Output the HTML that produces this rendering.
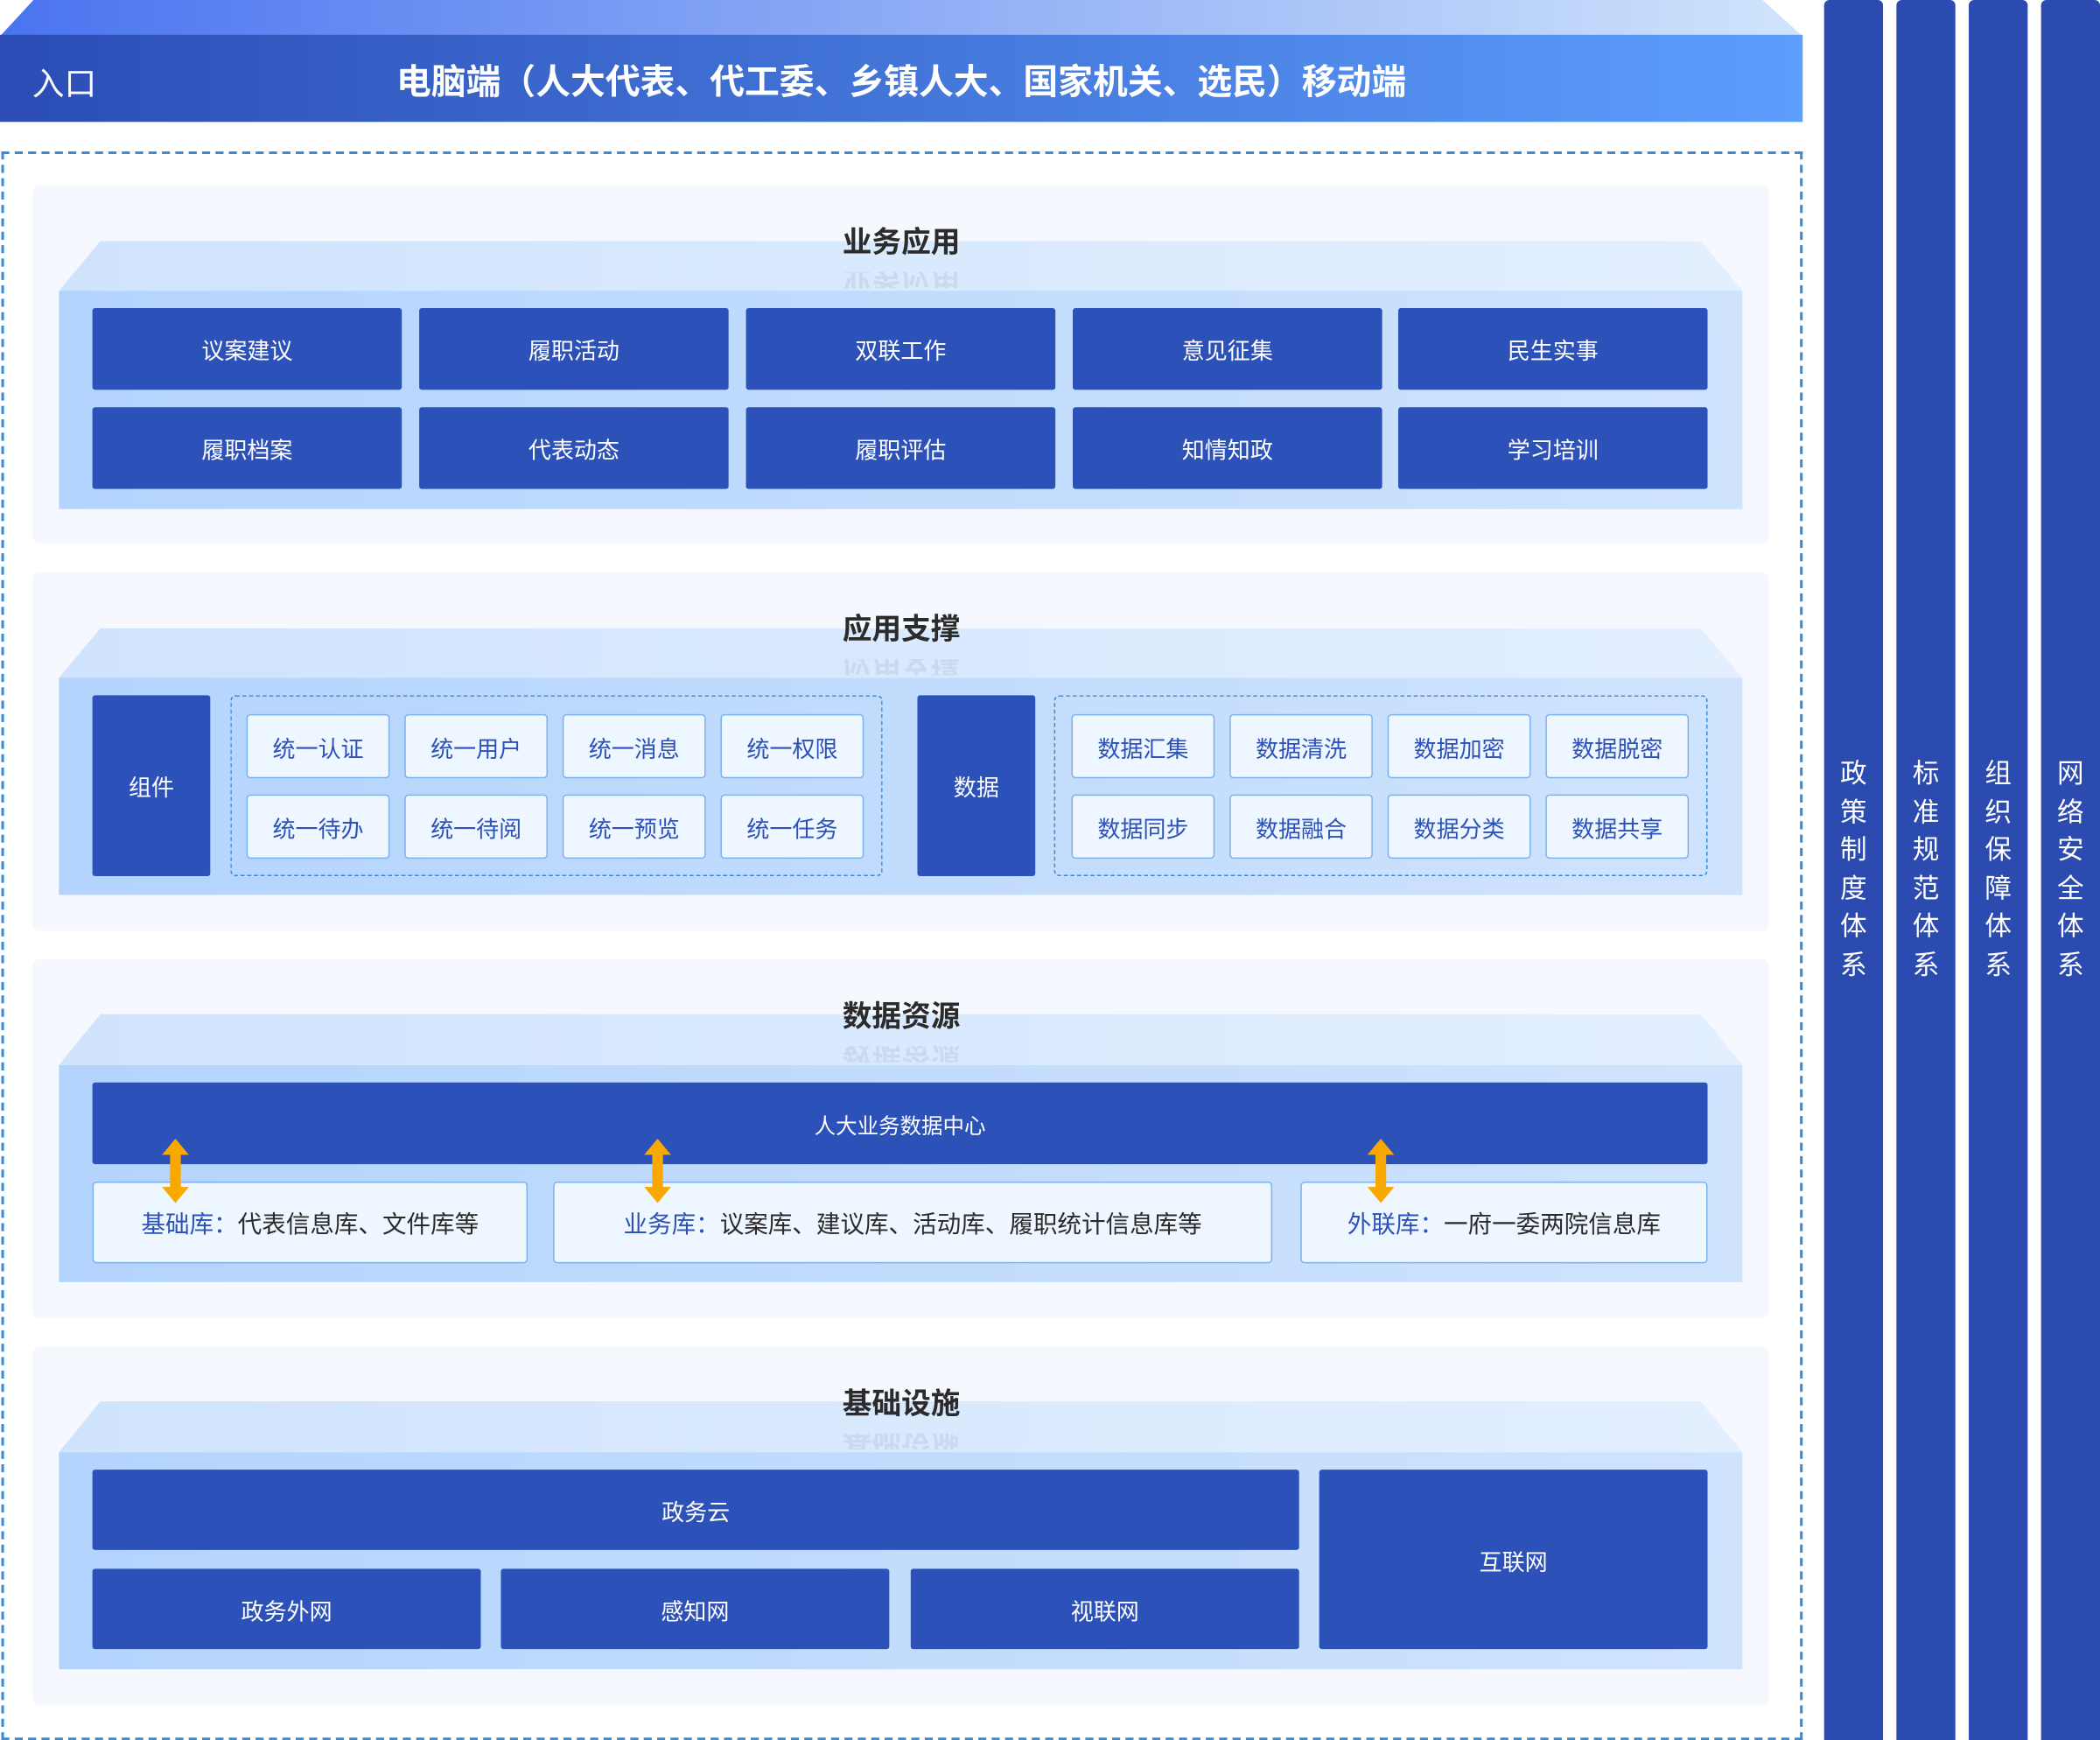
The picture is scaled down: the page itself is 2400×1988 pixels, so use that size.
<!DOCTYPE html>
<html><head><meta charset="utf-8"><style>
*{margin:0;padding:0;box-sizing:border-box}
html,body{width:2400px;height:1988px;overflow:hidden;background:#fff}
#w{position:absolute;left:0;top:0;width:1568px;height:1299px;transform:scale(1.530612);transform-origin:0 0;font-family:"Liberation Sans","Noto Sans CJK SC",sans-serif}
.a{position:absolute}
.c{display:flex;align-items:center;justify-content:center}
.db{background:#2c51b9;color:#fff;font-size:17px;border-radius:2px}
.lb{background:#eef6ff;border:1px solid #7fb2ea;color:#2c51b9;font-size:17px;border-radius:3px}
.panel{background:#f5f8fe;border-radius:6px}
.trap{clip-path:polygon(31px 0,calc(100% - 31px) 0,100% 100%,0 100%);background:linear-gradient(90deg,#cfe3fd,#e3efff)}
.plat{background:linear-gradient(90deg,#b3d4fd,#cfe3fd)}
.tt{font-size:22px;font-weight:bold;color:#2b2b2b;text-align:center;width:200px}
.rf{font-size:22px;font-weight:bold;color:#2b2b2b;text-align:center;width:200px;transform:scaleY(-1);opacity:.08;height:12px;overflow:hidden;line-height:12px}
.col{background:#2c4bb0;border-radius:4px 4px 0 0;color:#fff;font-size:20px;text-align:center;line-height:28.6px}
.dash{border:1.5px dashed #3a8ad6;border-radius:4px}
.lib{font-size:18px;color:#2a2a2a}
</style></head><body><div id="w">
<div class="a" style="left:0;top:0;width:1346px;height:27px;clip-path:polygon(25px 0,1316px 0,1346px 100%,0 100%);background:linear-gradient(90deg,#4a74f0,#d0e4fb)"></div>
<div class="a" style="left:0;top:26px;width:1346px;height:65px;background:linear-gradient(90deg,#2b4db5,#5c9efd)"></div>
<div class="a" style="left:24px;top:43px;color:#fff;font-size:24px">入口</div>
<div class="a" style="left:200px;top:41px;width:946px;text-align:center;color:#fff;font-size:26px;font-weight:bold">电脑端（人大代表、代工委、乡镇人大、国家机关、选民）移动端</div>
<div class="a" style="left:1px;top:113px;width:1345px;height:1186px;border:2px dashed #3a8ad6"></div>
<div class="a col" style="left:1362px;top:0;width:44px;height:1299px;padding-top:564px">政<br>策<br>制<br>度<br>体<br>系</div>
<div class="a col" style="left:1416px;top:0;width:44px;height:1299px;padding-top:564px">标<br>准<br>规<br>范<br>体<br>系</div>
<div class="a col" style="left:1470px;top:0;width:44px;height:1299px;padding-top:564px">组<br>织<br>保<br>障<br>体<br>系</div>
<div class="a col" style="left:1524px;top:0;width:44px;height:1299px;padding-top:564px">网<br>络<br>安<br>全<br>体<br>系</div>

<div class="a panel" style="left:24px;top:138px;width:1297px;height:268px"></div>
<div class="a trap" style="left:44px;top:180px;width:1257px;height:37px"></div>
<div class="a plat" style="left:44px;top:217px;width:1257px;height:163px"></div>
<div class="a tt" style="left:573px;top:163px">业务应用</div>
<div class="a rf" style="left:573px;top:203px">业务应用</div>
<div class="a db c" style="left:69px;top:230px;width:231px;height:61px">议案建议</div>
<div class="a db c" style="left:313px;top:230px;width:231px;height:61px">履职活动</div>
<div class="a db c" style="left:557px;top:230px;width:231px;height:61px">双联工作</div>
<div class="a db c" style="left:801px;top:230px;width:231px;height:61px">意见征集</div>
<div class="a db c" style="left:1044px;top:230px;width:231px;height:61px">民生实事</div>
<div class="a db c" style="left:69px;top:304px;width:231px;height:61px">履职档案</div>
<div class="a db c" style="left:313px;top:304px;width:231px;height:61px">代表动态</div>
<div class="a db c" style="left:557px;top:304px;width:231px;height:61px">履职评估</div>
<div class="a db c" style="left:801px;top:304px;width:231px;height:61px">知情知政</div>
<div class="a db c" style="left:1044px;top:304px;width:231px;height:61px">学习培训</div>

<div class="a panel" style="left:24px;top:427px;width:1297px;height:268px"></div>
<div class="a trap" style="left:44px;top:469px;width:1257px;height:37px"></div>
<div class="a plat" style="left:44px;top:506px;width:1257px;height:162px"></div>
<div class="a tt" style="left:573px;top:452px">应用支撑</div>
<div class="a rf" style="left:573px;top:492px">应用支撑</div>
<div class="a db c" style="left:69px;top:519px;width:88px;height:135px">组件</div>
<div class="a dash" style="left:172px;top:519px;width:487px;height:135px"></div>
<div class="a lb c" style="left:184px;top:533px;width:107px;height:48px">统一认证</div>
<div class="a lb c" style="left:302px;top:533px;width:107px;height:48px">统一用户</div>
<div class="a lb c" style="left:420px;top:533px;width:107px;height:48px">统一消息</div>
<div class="a lb c" style="left:538px;top:533px;width:107px;height:48px">统一权限</div>
<div class="a lb c" style="left:184px;top:593px;width:107px;height:48px">统一待办</div>
<div class="a lb c" style="left:302px;top:593px;width:107px;height:48px">统一待阅</div>
<div class="a lb c" style="left:420px;top:593px;width:107px;height:48px">统一预览</div>
<div class="a lb c" style="left:538px;top:593px;width:107px;height:48px">统一任务</div>
<div class="a db c" style="left:685px;top:519px;width:88px;height:135px">数据</div>
<div class="a dash" style="left:787px;top:519px;width:488px;height:135px"></div>
<div class="a lb c" style="left:800px;top:533px;width:107px;height:48px">数据汇集</div>
<div class="a lb c" style="left:918px;top:533px;width:107px;height:48px">数据清洗</div>
<div class="a lb c" style="left:1036px;top:533px;width:107px;height:48px">数据加密</div>
<div class="a lb c" style="left:1154px;top:533px;width:107px;height:48px">数据脱密</div>
<div class="a lb c" style="left:800px;top:593px;width:107px;height:48px">数据同步</div>
<div class="a lb c" style="left:918px;top:593px;width:107px;height:48px">数据融合</div>
<div class="a lb c" style="left:1036px;top:593px;width:107px;height:48px">数据分类</div>
<div class="a lb c" style="left:1154px;top:593px;width:107px;height:48px">数据共享</div>

<div class="a panel" style="left:24px;top:716px;width:1297px;height:268px"></div>
<div class="a trap" style="left:44px;top:757px;width:1257px;height:38px"></div>
<div class="a plat" style="left:44px;top:795px;width:1257px;height:162px"></div>
<div class="a tt" style="left:573px;top:741px">数据资源</div>
<div class="a rf" style="left:573px;top:781px">数据资源</div>
<div class="a db c" style="left:69px;top:808px;width:1206px;height:61px;font-size:16px">人大业务数据中心</div>
<div class="a lb c lib" style="left:69px;top:882px;width:325px;height:61px"><span style="color:#2c51b9">基础库：</span>代表信息库、文件库等</div>
<div class="a lb c lib" style="left:413px;top:882px;width:537px;height:61px"><span style="color:#2c51b9">业务库：</span>议案库、建议库、活动库、履职统计信息库等</div>
<div class="a lb c lib" style="left:971px;top:882px;width:304px;height:61px"><span style="color:#2c51b9">外联库：</span>一府一委两院信息库</div>
<svg class="a" style="left:0;top:0" width="1568" height="1299">
<g fill="#f9a800">
<polygon points="131,850 141,862 135,862 135,886 141,886 131,898 121,886 127,886 127,862 121,862"/>
<polygon points="491,850 501,862 495,862 495,886 501,886 491,898 481,886 487,886 487,862 481,862"/>
<polygon points="1031,850 1041,862 1035,862 1035,886 1041,886 1031,898 1021,886 1027,886 1027,862 1021,862"/>
</g></svg>

<div class="a panel" style="left:24px;top:1005px;width:1297px;height:268px"></div>
<div class="a trap" style="left:44px;top:1046px;width:1257px;height:38px"></div>
<div class="a plat" style="left:44px;top:1084px;width:1257px;height:162px"></div>
<div class="a tt" style="left:573px;top:1030px">基础设施</div>
<div class="a rf" style="left:573px;top:1070px">基础设施</div>
<div class="a db c" style="left:69px;top:1097px;width:901px;height:60px">政务云</div>
<div class="a db c" style="left:985px;top:1097px;width:290px;height:134px">互联网</div>
<div class="a db c" style="left:69px;top:1171px;width:290px;height:60px">政务外网</div>
<div class="a db c" style="left:374px;top:1171px;width:290px;height:60px">感知网</div>
<div class="a db c" style="left:680px;top:1171px;width:290px;height:60px">视联网</div>
</div></body></html>
